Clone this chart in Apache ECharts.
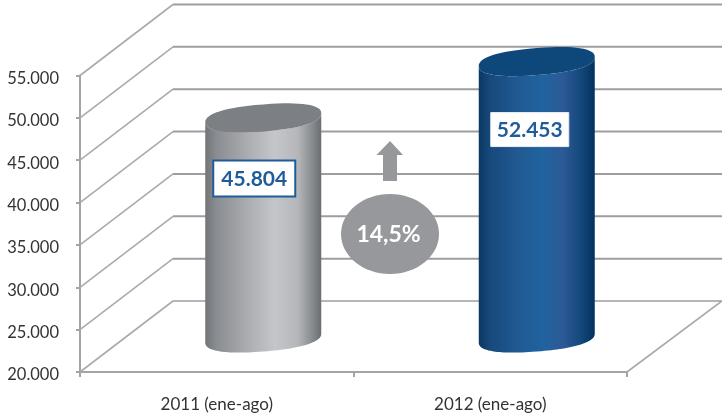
<!DOCTYPE html>
<html>
<head>
<meta charset="utf-8">
<style>html,body{margin:0;padding:0;background:#fff}#c{width:722px;height:417px}</style>
<script src="https://cdn.jsdelivr.net/npm/echarts@6/dist/echarts.min.js"></script>
</head>
<body>
<div id="c"></div>
<script>
var categories = ['2011 (ene-ago)', '2012 (ene-ago)'];
var values = [45804, 52453];
var valueLabels = ['45.804', '52.453'];
var gridValues = [20000, 25000, 30000, 35000, 40000, 45000, 50000, 55000];
var changeLabel = '14,5%';

var DEPTH_X = 93, DEPTH_Y = -71, HALF_W = 58, MINOR = 13.5, SLANT = 4.5;
var FONT = 'Lato, "Open Sans", sans-serif';
var bodyFills = [
  [[0,'#727578'],[0.1,'#8a8d91'],[0.35,'#a9abae'],[0.6,'#c4c6c9'],[0.8,'#b4b6b9'],[0.93,'#85888c'],[1,'#6a6d71']],
  [[0,'#0b3864'],[0.1,'#17497c'],[0.35,'#215a92'],[0.55,'#1f639f'],[0.72,'#2c5a96'],[0.88,'#14487c'],[1,'#02325c']]
];
var topFills = ['#7c7f83', '#0e487a'];
var boxStyles = [
  {dx:-9, dy:60.5, w:82, h:36, stroke:'#1f5c99', lw:2},
  {dx:-7, dy:68, w:78, h:34, stroke:'#e8edf3', lw:1}
];

function thousands(v){ return String(v).replace(/\B(?=(\d{3})+$)/g,'.'); }

// Slightly squared ellipse so the cap ends stay round like the reference.
function ellipseArc(cx, cy, from, to){
  var pts = [], n = 64, p = 0.85;
  function sp(v){ return (v < 0 ? -1 : 1) * Math.pow(Math.abs(v), p); }
  for (var i = 0; i <= n; i++){
    var t = from + (to - from) * i / n;
    var c = sp(Math.cos(t)), s = sp(Math.sin(t));
    pts.push([cx + HALF_W * c, cy + MINOR * s - SLANT * c]);
  }
  return pts;
}

function renderGrid(params, api){
  var cs = params.coordSys;
  var val = api.value(0);
  var y = api.coord([0, val])[1];
  var x0 = cs.x, x1 = cs.x + cs.width;
  var floor = val === gridValues[0];
  var children = [
    {type:'line',shape:{x1:x0,y1:y,x2:x0+DEPTH_X,y2:y+DEPTH_Y},style:{stroke:'#a9aaad',lineWidth:1.6}},
    {type:'line',shape:{x1:x0+DEPTH_X,y1:y+DEPTH_Y,x2:722,y2:y+DEPTH_Y},style:{stroke:'#9d9ea2',lineWidth:floor?1.5:2}}
  ];
  if (floor) {
    children.push({type:'line',shape:{x1:x1,y1:y,x2:x1+DEPTH_X+2,y2:y+DEPTH_Y},style:{stroke:'#a9aaad',lineWidth:1.6}});
  }
  return {type:'group',children:children};
}

function renderCyl(params, api){
  var i = params.dataIndex;
  var top = api.coord([api.value(0), api.value(1)]);
  var base = api.coord([api.value(0), gridValues[0]]);
  var cx = top[0] + DEPTH_X/2, ty = top[1] + DEPTH_Y/2, by = base[1] + DEPTH_Y/2 + 1.5;
  var topEdge = ellipseArc(cx, ty, Math.PI, 0);
  var botEdge = ellipseArc(cx, by, 0, Math.PI);
  var box = boxStyles[i];
  var bx = cx + box.dx, bcy = ty + box.dy;
  return {type:'group',children:[
    {type:'polygon',shape:{points:topEdge.concat(botEdge)},
      style:{fill:new echarts.graphic.LinearGradient(0,0,1,0,bodyFills[i].map(function(s){return {offset:s[0],color:s[1]};}))}},
    {type:'polygon',shape:{points:ellipseArc(cx, ty, 0, Math.PI*2)},style:{fill:topFills[i]}},
    {type:'rect',shape:{x:bx-box.w/2,y:bcy-box.h/2,width:box.w,height:box.h},
      style:{fill:'#fff',stroke:box.stroke,lineWidth:box.lw}},
    {type:'text',style:{x:bx,y:bcy+1,text:valueLabels[i],align:'center',verticalAlign:'middle',
      fill:'#1f5c99',font:'bold 21px '+FONT}}
  ]};
}

var chart = echarts.init(document.getElementById('c'), null, {renderer:'canvas'});
chart.setOption({
  animation:false,
  grid:{left:80,right:95,top:75.5,bottom:45,containLabel:false},
  xAxis:{type:'category',data:categories,
    axisLine:{lineStyle:{color:'#a3a4a8',width:2}},
    axisTick:{show:true,alignWithLabel:false,length:5,lineStyle:{color:'#a3a4a8',width:2}},
    axisLabel:{color:'#333',fontFamily:FONT,fontSize:17,margin:24}},
  yAxis:{type:'value',min:20000,max:55000,interval:5000,
    axisLine:{show:true,lineStyle:{color:'#a3a4a8',width:2}},
    axisTick:{show:true,length:4,lineStyle:{color:'#a3a4a8',width:2}},
    splitLine:{show:false},
    axisLabel:{color:'#333',fontFamily:FONT,fontSize:16.5,margin:21,verticalAlign:'top',lineHeight:4,padding:[1,0,0,0],formatter:thousands}},
  series:[
    {type:'custom',coordinateSystem:'cartesian2d',z:1,silent:true,clip:false,
     encode:{y:0},data:gridValues.map(function(v){return [v];}),renderItem:renderGrid},
    {type:'custom',coordinateSystem:'cartesian2d',z:3,silent:true,clip:false,
     encode:{x:0,y:1},data:values.map(function(v,i){return [i,v];}),renderItem:renderCyl}
  ],
  graphic:[
    {type:'polygon',z:5,shape:{points:[[390,141],[403,155],[397,155],[397,181],[383,181],[383,155],[376.5,155]]},style:{fill:'#97989c'}},
    {type:'ellipse',z:5,shape:{cx:390,cy:234,rx:49,ry:40},style:{fill:'#97989c'}},
    {type:'text',z:6,style:{x:388.5,y:235,text:changeLabel,align:'center',verticalAlign:'middle',fill:'#fff',font:'bold 23px '+FONT}}
  ]
});
</script>
</body>
</html>
